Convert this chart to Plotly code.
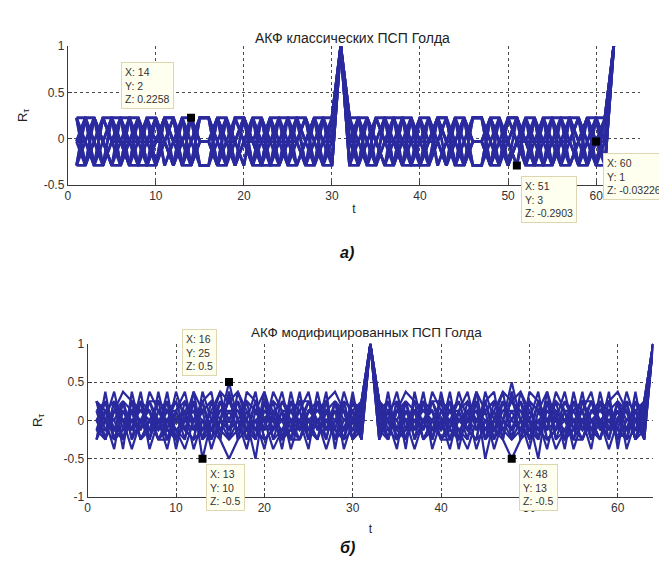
import plotly.graph_objects as go

# ---------------- plot a) : classical Gold sequences (N = 31) ----------------
H, M, L, P = 0.2258, -0.03226, -0.2903, 1.0
t_a = list(range(1, 63))

s1 = [H,M,L,M,H,M,L,H,M,M,H,L,M,H,M,M,H,M,L,H,M,M,H,L,M,H,M,L,M,H,P,
      H,M,L,M,H,M,L,H,M,M,H,L,M,H,M,M,H,M,L,H,M,M,H,L,M,H,M,L,M,H,P]
s2 = [M,L,H,M,H,L,M,M,H,L,H,M,M,H,L,L,H,M,M,H,L,H,M,M,L,H,M,H,L,M,P,
      M,L,H,M,H,L,M,M,H,L,H,M,M,H,L,L,H,M,M,H,L,H,M,M,L,H,M,H,L,M,P]
s3 = [L,H,M,H,M,L,H,M,M,H,L,M,H,L,M,M,L,H,M,L,H,M,M,H,L,M,H,M,H,L,P,
      L,H,M,H,M,L,H,M,M,H,L,M,H,L,M,M,L,H,M,L,H,M,M,H,L,M,H,M,H,L,P]
s4 = [M,M,H,L,H,M,L,M,H,L,M,H,L,M,H,H,M,L,H,M,L,H,M,L,M,H,L,H,M,M,P,
      M,M,H,L,H,M,L,M,H,L,M,H,L,M,H,H,M,L,H,M,L,H,M,L,M,H,L,H,M,M,P]
s5 = [H,L,M,H,M,M,L,H,L,M,H,M,L,H,M,M,H,L,M,H,M,L,H,L,M,M,H,M,L,H,P,
      H,L,M,H,M,M,L,H,L,M,H,M,L,H,M,M,H,L,M,H,M,L,H,L,M,M,H,M,L,H,P]
s6 = [L,M,H,M,L,H,M,H,M,L,M,L,H,M,H,H,M,H,L,M,L,M,H,M,H,L,M,H,M,L,P,
      L,M,H,M,L,H,M,H,M,L,M,L,H,M,H,H,M,H,L,M,L,M,H,M,H,L,M,H,M,L,P]
s7 = [M,H,M,L,M,H,H,L,M,H,L,M,M,L,H,H,L,M,M,L,H,M,L,H,H,M,L,M,H,M,P,
      M,H,M,L,M,H,H,L,M,H,L,M,M,L,H,H,L,M,M,L,H,M,L,H,H,M,L,M,H,M,P]
s8 = [H,L,H,M,L,M,M,H,L,M,M,H,L,M,L,L,M,L,H,M,M,L,H,M,M,L,M,H,L,H,P,
      H,L,H,M,L,M,M,H,L,M,M,H,L,M,L,L,M,L,H,M,M,L,H,M,M,L,M,H,L,H,P]
s9 = [L,H,L,H,M,M,H,M,L,H,M,L,M,H,M,M,H,M,L,M,H,L,M,H,M,M,H,L,H,L,P,
      L,H,L,H,M,M,H,M,L,H,M,L,M,H,M,M,H,M,L,M,H,L,M,H,M,M,H,L,H,L,P]
s10 = [M,M,L,H,H,L,M,L,H,M,H,M,H,L,M,M,L,H,M,H,M,H,L,M,L,H,H,L,M,M,P,
       M,M,L,H,H,L,M,L,H,M,H,M,H,L,M,M,L,H,M,H,M,H,L,M,L,H,H,L,M,M,P]
s11 = [H,H,L,L,M,H,L,L,H,H,M,L,H,H,L,L,H,H,L,M,H,H,L,L,H,M,L,L,H,H,P,
       H,H,L,L,M,H,L,L,H,H,M,L,H,H,L,L,H,H,L,M,H,H,L,L,H,M,L,L,H,H,P]
s12 = [L,L,M,L,H,H,M,L,L,M,H,H,M,L,H,H,L,M,H,H,M,L,L,M,H,H,L,M,L,L,P,
       L,L,M,L,H,H,M,L,L,M,H,H,M,L,H,H,L,M,H,H,M,L,L,M,H,H,L,M,L,L,P]
s13 = [M,H,H,M,L,L,H,H,L,L,H,H,L,L,M,M,L,L,H,H,L,L,H,H,L,L,M,H,H,M,P,
       M,H,H,M,L,L,H,H,L,L,H,H,L,L,M,M,L,L,H,H,L,L,H,H,L,L,M,H,H,M,P]

tip_a_x = [14, 51, 60]
tip_a_y = [2, 3, 1]
tip_a_z = [0.2258, -0.2903, -0.03226]

# ---------------- plot b) : modified Gold sequences (N = 32) ----------------
U4, U3, U2, U1, Z = 0.5, 0.375, 0.25, 0.125, 0.0
D1, D2, D3, D4 = -0.125, -0.25, -0.375, -0.5
t_b = list(range(1, 65))

r1 = [U1,D2,U2,Z,D1,U3,D2,U1,Z,D2,U2,D1,U1,D3,Z,U2,Z,D3,U1,D1,U2,D2,Z,U1,D2,U3,D1,Z,U2,D2,U1,P,
      U1,D2,U2,Z,D1,U3,D2,U1,Z,D2,U2,D1,U1,D3,Z,U2,Z,D3,U1,D1,U2,D2,Z,U1,D2,U3,D1,Z,U2,D2,U1,P]
r2 = [D2,U1,Z,U2,D2,Z,U1,D1,U3,D2,Z,U1,D2,U2,D1,D2,D1,U2,D2,U1,Z,D2,U3,D1,U1,Z,D2,U2,Z,U1,D2,P,
      D2,U1,Z,U2,D2,Z,U1,D1,U3,D2,Z,U1,D2,U2,D1,D2,D1,U2,D2,U1,Z,D2,U3,D1,U1,Z,D2,U2,Z,U1,D2,P]
r3 = [U2,Z,D1,D2,U1,U2,D3,Z,U1,U2,D1,D2,U3,Z,U1,U1,U1,Z,U3,D2,D1,U2,U1,Z,D3,U2,U1,D2,D1,Z,U2,P,
      U2,Z,D1,D2,U1,U2,D3,Z,U1,U2,D1,D2,U3,Z,U1,U1,U1,Z,U3,D2,D1,U2,U1,Z,D3,U2,U1,D2,D1,Z,U2,P]
r4 = [Z,U2,D2,U1,Z,D1,U2,U2,D2,Z,U1,D3,Z,D1,U2,Z,U2,D1,Z,D3,U1,Z,D2,U2,U2,D1,Z,U1,D2,U2,Z,P,
      Z,U2,D2,U1,Z,D1,U2,U2,D2,Z,U1,D3,Z,D1,U2,Z,U2,D1,Z,D3,U1,Z,D2,U2,U2,D1,Z,U1,D2,U2,Z,P]
r5 = [D1,D1,U1,U3,U2,D2,Z,D1,U1,U1,D2,U2,D1,U1,D2,U3,D2,U1,D1,U2,D2,U1,U1,D1,Z,D2,U2,U3,U1,D1,D1,P,
      D1,D1,U1,U3,U2,D2,Z,D1,U1,U1,D2,U2,D1,U1,D2,U3,D2,U1,D1,U2,D2,U1,U1,D1,Z,D2,U2,U3,U1,D1,D1,P]
r6 = [U2,U1,D2,D1,Z,U1,U1,D2,D1,U3,Z,D1,U2,D2,Z,D1,Z,D2,U2,D1,Z,U3,D1,D2,U1,U1,Z,D1,D2,U1,U2,P,
      U2,U1,D2,D1,Z,U1,U1,D2,D1,U3,Z,D1,U2,D2,Z,D1,Z,D2,U2,D1,Z,U3,D1,D2,U1,U1,Z,D1,D2,U1,U2,P]
r7 = [D2,Z,U3,D1,U1,D2,Z,U2,U1,D1,D3,Z,U1,U2,D1,Z,D1,U2,U1,Z,D3,D1,U1,U2,Z,D2,U1,D1,U3,Z,D2,P,
      D2,Z,U3,D1,U1,D2,Z,U2,U1,D1,D3,Z,U1,U2,D1,Z,D1,U2,U1,Z,D3,D1,U1,U2,Z,D2,U1,D1,U3,Z,D2,P]
r8 = [Z,D2,U1,Z,D3,Z,U2,D1,U2,Z,U1,U2,D2,Z,U3,D2,U3,Z,D2,U2,U1,Z,U2,D1,U2,Z,D3,Z,U1,D2,Z,P,
      Z,D2,U1,Z,D3,Z,U2,D1,U2,Z,U1,U2,D2,Z,U3,D2,U3,Z,D2,U2,U1,Z,U2,D1,U2,Z,D3,Z,U1,D2,Z,P]
r9 = [U1,U2,D1,U2,U1,Z,D2,U3,D1,D2,Z,U1,Z,D1,U1,U2,U1,D1,Z,U1,Z,D2,D1,U3,D2,Z,U1,U2,D1,U2,U1,P,
      U1,U2,D1,U2,U1,Z,D2,U3,D1,D2,Z,U1,Z,D1,U1,U2,U1,D1,Z,U1,Z,D2,D1,U3,D2,Z,U1,U2,D1,U2,U1,P]
r10 = [D1,Z,Z,D2,U2,U1,U1,D2,Z,U2,D1,D2,U2,U3,D2,D4,D2,U3,U2,D2,D1,U2,Z,D2,U1,U1,U2,D2,Z,Z,D1,P,
       D1,Z,Z,D2,U2,U1,U1,D2,Z,U2,D1,D2,U2,U3,D2,D4,D2,U3,U2,D2,D1,U2,Z,D2,U1,U1,U2,D2,Z,Z,D1,P]
r11 = [U2,D1,D2,U1,D1,U2,D1,Z,D3,U1,U2,Z,D1,Z,U2,D1,U2,Z,D1,Z,U2,U1,D3,Z,D1,U2,D1,U1,D2,D1,U2,P,
       U2,D1,D2,U1,D1,U2,D1,Z,D3,U1,U2,Z,D1,Z,U2,D1,U2,Z,D1,Z,U2,U1,D3,Z,D1,U2,D1,U1,D2,D1,U2,P]
r12 = [Z,U1,U2,D2,Z,D1,U3,U1,D1,D1,Z,U3,D2,D1,Z,U4,Z,D1,D2,U3,Z,D1,D1,U1,U3,D1,Z,D2,U2,U1,Z,P,
       Z,U1,U2,D2,Z,D1,U3,U1,D1,D1,Z,U3,D2,D1,Z,U4,Z,D1,D2,U3,Z,D1,D1,U1,U3,D1,Z,D2,U2,U1,Z,P]
r13 = [D1,U2,D1,Z,U1,D2,D1,U2,U1,Z,D1,U2,D4,Z,D1,U1,D1,Z,D4,U2,D1,Z,U1,U2,D1,D2,U1,Z,D1,U2,D1,P,
       D1,U2,D1,Z,U1,D2,D1,U2,U1,Z,D1,U2,D4,Z,D1,U1,D1,Z,D4,U2,D1,Z,U1,U2,D1,D2,U1,Z,D1,U2,D1,P]
r14 = [U2,D2,U1,U2,D1,Z,D2,U1,U2,D3,U1,Z,U2,D1,D2,U3,D2,D1,U2,Z,U1,D3,U2,U1,D2,Z,D1,U2,U1,D2,U2,P,
       U2,D2,U1,U2,D1,Z,D2,U1,U2,D3,U1,Z,U2,D1,D2,U3,D2,D1,U2,Z,U1,D3,U2,U1,D2,Z,D1,U2,U1,D2,U2,P]
r15 = [D2,U3,D2,D1,U2,U1,Z,D2,D2,U1,U3,D1,Z,D2,U2,Z,U2,D2,Z,D1,U3,U1,D2,D2,Z,U1,U2,D1,D2,U3,D2,P,
       D2,U3,D2,D1,U2,U1,Z,D2,D2,U1,U3,D1,Z,D2,U2,Z,U2,D2,Z,D1,U3,U1,D2,D2,Z,U1,U2,D1,D2,U3,D2,P]
r16 = [U1,Z,D3,U2,D2,U2,U1,D1,Z,D1,D2,U3,U1,U2,Z,D2,Z,U2,U1,U3,D2,D1,Z,D1,U1,U2,D2,U2,D3,Z,U1,P,
       U1,Z,D3,U2,D2,U2,U1,D1,Z,D1,D2,U3,U1,U2,Z,D2,Z,U2,U1,U3,D2,D1,Z,D1,U1,U2,D2,U2,D3,Z,U1,P]
r17 = [D1,D2,U2,D3,U3,D1,U2,Z,D2,U1,D1,D2,D1,U1,U3,U2,U3,U1,D1,D2,D1,U1,D2,Z,U2,D1,U3,D3,U2,D2,D1,P,
       D1,D2,U2,D3,U3,D1,U2,Z,D2,U1,D1,D2,D1,U1,U3,U2,U3,U1,D1,D2,D1,U1,D2,Z,U2,D1,U3,D3,U2,D2,D1,P]

tip_b_x = [16, 13, 48]
tip_b_y = [25, 10, 13]
tip_b_z = [0.5, -0.5, -0.5]

title_a = "АКФ классических ПСП Голда"
title_b = "АКФ модифицированных ПСП Голда"

# ---------------------------------------------------------------------------
W, Hh = 667, 577
LINE = "rgb(42,42,158)"
FONT = "Liberation Sans, Arial, sans-serif"

def px(x):
    return x / W

def py(y):
    return 1 - y / Hh

fig = go.Figure()

for s in [s1, s2, s3, s4, s5, s6, s7, s8, s9, s10, s11, s12, s13]:
    fig.add_trace(go.Scatter(x=t_a, y=s, mode="lines", xaxis="x", yaxis="y",
                             line=dict(color=LINE, width=2.8), showlegend=False,
                             hoverinfo="skip"))
for r in [r1, r2, r3, r4, r5, r6, r7, r8, r9, r10, r11, r12, r13, r14, r15, r16, r17]:
    fig.add_trace(go.Scatter(x=t_b, y=r, mode="lines", xaxis="x2", yaxis="y2",
                             line=dict(color=LINE, width=2.2), showlegend=False,
                             hoverinfo="skip"))

fig.add_trace(go.Scatter(x=tip_a_x, y=tip_a_z, mode="markers", xaxis="x", yaxis="y",
                         marker=dict(symbol="square", size=8, color="black"),
                         showlegend=False, hoverinfo="skip"))
fig.add_trace(go.Scatter(x=tip_b_x, y=tip_b_z, mode="markers", xaxis="x2", yaxis="y2",
                         marker=dict(symbol="square", size=8, color="black"),
                         showlegend=False, hoverinfo="skip"))

ax = dict(showline=True, linecolor="#3a3a3a", linewidth=1, mirror=False,
          showgrid=True, gridcolor="#4a4a4a", griddash="dot", gridwidth=1,
          zeroline=False, ticks="inside", ticklen=4, tickcolor="#3a3a3a",
          tickfont=dict(size=12, color="#333", family=FONT))

fig.update_layout(
    width=W, height=Hh, margin=dict(l=0, r=0, t=0, b=0),
    paper_bgcolor="white", plot_bgcolor="white",
    font=dict(family=FONT, color="#222"),
    xaxis=dict(domain=[px(57), px(632)], range=[0, 65], tickvals=[0, 10, 20, 30, 40, 50, 60],
               anchor="y", title=dict(text="t", font=dict(size=12), standoff=2), **ax),
    yaxis=dict(domain=[py(174), py(32)], range=[-0.5, 1], tickvals=[-0.5, 0, 0.5, 1],
               ticktext=["-0.5", "0", "0.5", "1"], anchor="x",
               title=dict(text="R<sub>τ</sub>", font=dict(size=13), standoff=13), **ax),
    xaxis2=dict(domain=[px(77), px(645)], range=[0, 64], tickvals=[0, 10, 20, 30, 40, 50, 60],
                anchor="y2", title=dict(text="t", font=dict(size=12), standoff=10), **ax),
    yaxis2=dict(domain=[py(494), py(337)], range=[-1, 1], tickvals=[-1, -0.5, 0, 0.5, 1],
                ticktext=["-1", "-0.5", "0", "0.5", "1"], anchor="x2",
                title=dict(text="R<sub>τ</sub>", font=dict(size=13), standoff=18), **ax),
)

ann = []
ann.append(dict(text=title_a, x=px(343), y=py(13), xref="paper", yref="paper",
                showarrow=False, font=dict(size=14, color="#222")))
ann.append(dict(text=title_b, x=px(357), y=py(325), xref="paper", yref="paper",
                showarrow=False, font=dict(size=13.5, color="#222")))
ann.append(dict(text="<b><i>а)</i></b>", x=px(338), y=py(243), xref="paper", yref="paper",
                showarrow=False, font=dict(size=16, color="#111")))
ann.append(dict(text="<b><i>б)</i></b>", x=px(338), y=py(556), xref="paper", yref="paper",
                showarrow=False, font=dict(size=16, color="#111")))

box_a = [(110, 48), (512, 165), (595, 141)]
box_b = [(172, 322), (196, 460), (510, 460)]
for (bx, by), xx, yy, zz in zip(box_a, tip_a_x, tip_a_y, tip_a_z):
    ann.append(dict(text=f"X: {xx}<br>Y: {yy}<br>Z: {zz:g}", x=px(bx), y=py(by),
                    xref="paper", yref="paper", xanchor="left", yanchor="top",
                    align="left", showarrow=False, bgcolor="#fffff0",
                    bordercolor="#ddd6b0", borderwidth=1, borderpad=3,
                    font=dict(size=10.5, color="#333")))
for (bx, by), xx, yy, zz in zip(box_b, tip_b_x, tip_b_y, tip_b_z):
    ann.append(dict(text=f"X: {xx}<br>Y: {yy}<br>Z: {zz:g}", x=px(bx), y=py(by),
                    xref="paper", yref="paper", xanchor="left", yanchor="top",
                    align="left", showarrow=False, bgcolor="#fffff0",
                    bordercolor="#ddd6b0", borderwidth=1, borderpad=3,
                    font=dict(size=10.5, color="#333")))
fig.update_layout(annotations=ann)

fig.write_html("out.html")
